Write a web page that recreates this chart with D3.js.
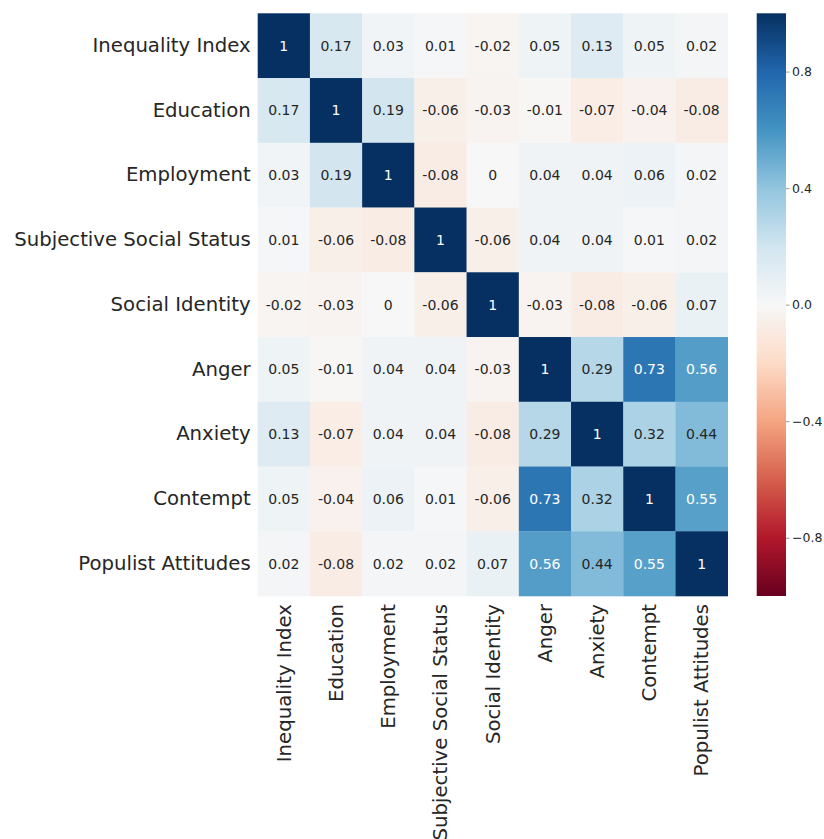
<!DOCTYPE html>
<html>
<head>
<meta charset="utf-8">
<script src="https://cdn.jsdelivr.net/npm/d3@7"></script>
<style>
  html, body { margin: 0; padding: 0; background: #ffffff; }
  svg { display: block; font-family: "DejaVu Sans", sans-serif; }
</style>
</head>
<body>
<svg id="chart" width="824" height="839"></svg>
<script>
// Variables of the correlation matrix
const variables = [
  "Inequality Index", "Education", "Employment", "Subjective Social Status",
  "Social Identity", "Anger", "Anxiety", "Contempt", "Populist Attitudes"
];

// Pairwise correlations, one row per variable
const rowInequality = [1, 0.17, 0.03, 0.01, -0.02, 0.05, 0.13, 0.05, 0.02];
const rowEducation  = [0.17, 1, 0.19, -0.06, -0.03, -0.01, -0.07, -0.04, -0.08];
const rowEmployment = [0.03, 0.19, 1, -0.08, 0, 0.04, 0.04, 0.06, 0.02];
const rowStatus     = [0.01, -0.06, -0.08, 1, -0.06, 0.04, 0.04, 0.01, 0.02];
const rowIdentity   = [-0.02, -0.03, 0, -0.06, 1, -0.03, -0.08, -0.06, 0.07];
const rowAnger      = [0.05, -0.01, 0.04, 0.04, -0.03, 1, 0.29, 0.73, 0.56];
const rowAnxiety    = [0.13, -0.07, 0.04, 0.04, -0.08, 0.29, 1, 0.32, 0.44];
const rowContempt   = [0.05, -0.04, 0.06, 0.01, -0.06, 0.73, 0.32, 1, 0.55];
const rowPopulist   = [0.02, -0.08, 0.02, 0.02, 0.07, 0.56, 0.44, 0.55, 1];

const matrix = [rowInequality, rowEducation, rowEmployment, rowStatus, rowIdentity,
                rowAnger, rowAnxiety, rowContempt, rowPopulist];

// Colour bar tick values
const colorbarTicks = [-0.8, -0.4, 0.0, 0.4, 0.8];

// Diverging red-blue palette (11 ColorBrewer stops, linearly interpolated)
const rdbuStops = ["#67001f", "#b2182b", "#d6604d", "#f4a582", "#fddbc7", "#f7f7f7",
                   "#d1e5f0", "#92c5de", "#4393c3", "#2166ac", "#053061"];
const color = d3.scaleLinear()
  .domain(d3.range(11).map(i => -1 + i * 0.2))
  .range(rdbuStops)
  .interpolate(d3.interpolateRgb)
  .clamp(true);

const svg = d3.select("#chart");
const textColor = "#262626";

const plot = { left: 257.7, top: 13.3, width: 470, height: 582.7 };

const x = d3.scaleBand().domain(variables).range([plot.left, plot.left + plot.width]);
const y = d3.scaleBand().domain(variables).range([plot.top, plot.top + plot.height]);

const cells = [];
matrix.forEach((row, i) => row.forEach((v, j) => cells.push({ r: variables[i], c: variables[j], v })));

// Heatmap cells
svg.append("g").selectAll("rect").data(cells).join("rect")
  .attr("x", d => x(d.c))
  .attr("y", d => y(d.r))
  .attr("width", x.bandwidth() + 0.3)
  .attr("height", y.bandwidth() + 0.3)
  .attr("fill", d => color(d.v));

// Annotations: light text on dark cells
function luminance(c) {
  const rgb = d3.rgb(c);
  const f = ch => { ch /= 255; return ch <= 0.03928 ? ch / 12.92 : Math.pow((ch + 0.055) / 1.055, 2.4); };
  return 0.2126 * f(rgb.r) + 0.7152 * f(rgb.g) + 0.0722 * f(rgb.b);
}
const fmt = v => String(v);
svg.append("g").selectAll("text").data(cells).join("text")
  .attr("x", d => x(d.c) + x.bandwidth() / 2)
  .attr("y", d => y(d.r) + y.bandwidth() / 2)
  .attr("text-anchor", "middle")
  .attr("dominant-baseline", "central")
  .attr("font-size", 14)
  .attr("fill", d => luminance(color(d.v)) > 0.408 ? textColor : "#ffffff")
  .text(d => fmt(d.v));

// Row labels
const yAxis = svg.append("g")
  .attr("transform", `translate(${plot.left},0)`)
  .call(d3.axisLeft(y).tickSize(0).tickPadding(7));
yAxis.select(".domain").remove();
yAxis.selectAll("text").attr("font-size", 19.7).attr("fill", textColor)
  .attr("font-family", "DejaVu Sans, sans-serif");

// Column labels, rotated
const xAxis = svg.append("g")
  .attr("transform", `translate(0,${plot.top + plot.height})`)
  .call(d3.axisBottom(x).tickSize(0).tickPadding(7));
xAxis.select(".domain").remove();
xAxis.selectAll("text")
  .attr("font-size", 19.7).attr("fill", textColor)
  .attr("font-family", "DejaVu Sans, sans-serif")
  .attr("transform", "rotate(-90)")
  .attr("text-anchor", "end")
  .attr("dy", "0.35em")
  .attr("x", -8)
  .attr("y", 0);

// Colour bar
const cb = { left: 756.7, top: 13.3, width: 29.3, height: 582.7 };
const defs = svg.append("defs");
const grad = defs.append("linearGradient").attr("id", "cbgrad")
  .attr("x1", 0).attr("y1", 1).attr("x2", 0).attr("y2", 0);
d3.range(0, 1.0001, 0.02).forEach(t => {
  grad.append("stop").attr("offset", t).attr("stop-color", color(-1 + 2 * t));
});
svg.append("rect")
  .attr("x", cb.left).attr("y", cb.top)
  .attr("width", cb.width).attr("height", cb.height)
  .attr("fill", "url(#cbgrad)");

const cbScale = d3.scaleLinear().domain([-1, 1]).range([cb.top + cb.height, cb.top]);
const cbAxis = svg.append("g")
  .attr("transform", `translate(${cb.left + cb.width},0)`)
  .call(d3.axisRight(cbScale).tickValues(colorbarTicks).tickSize(3.5).tickPadding(2.5)
    .tickFormat(v => d3.format(".1f")(v).replace("-", "\u2212")));
cbAxis.select(".domain").remove();
cbAxis.selectAll("line").attr("stroke", "#9a9a9a");
cbAxis.selectAll("text").attr("font-size", 12.5).attr("fill", textColor)
  .attr("font-family", "DejaVu Sans, sans-serif");
</script>
</body>
</html>
